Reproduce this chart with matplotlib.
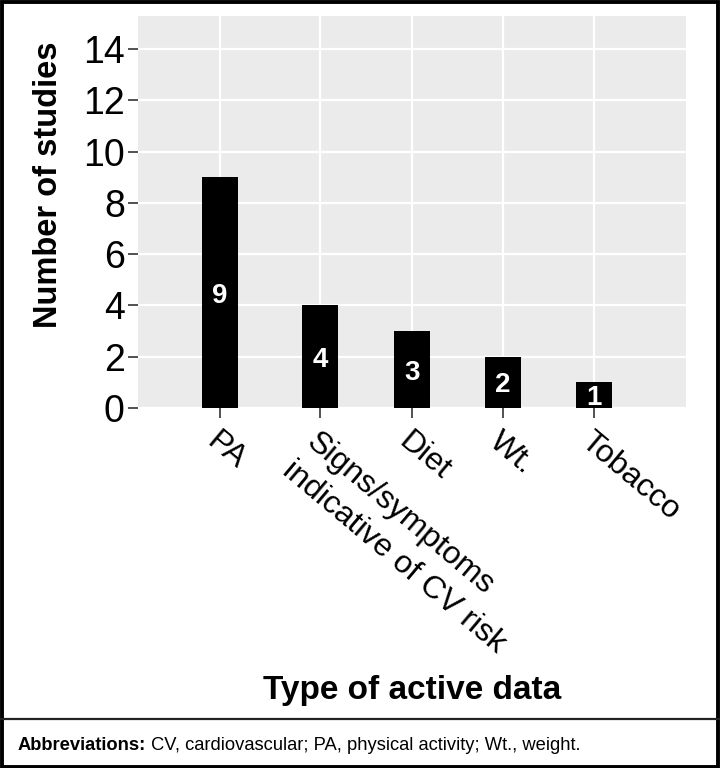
import matplotlib
matplotlib.use("Agg")
import matplotlib.pyplot as plt
from matplotlib.patches import Rectangle
from matplotlib.lines import Line2D

categories = ["PA", "Signs/symptoms\nindicative of CV risk", "Diet", "Wt.", "Tobacco"]
counts = [9, 4, 3, 2, 1]
y_ticks = [0, 2, 4, 6, 8, 10, 12, 14]
y_label = "Number of studies"
x_label = "Type of active data"
note_bold = "Abbreviations:"
note_rest = " CV, cardiovascular; PA, physical activity; Wt., weight."

plt.rcParams['font.family'] = ['Liberation Sans', 'DejaVu Sans']

W, H = 720, 768
fig = plt.figure(figsize=(W / 100, H / 100), dpi=100)
fig.patch.set_facecolor('white')

# panel in pixels
L, R, T, B = 138, 686, 16, 408
ax = fig.add_axes([L / W, 1 - B / H, (R - L) / W, (B - T) / H])
ax.set_facecolor('#EBEBEB')

xpos = [0, 1.09, 2.09, 3.085, 4.08]
ax.bar(xpos, counts, width=0.393, color='black', zorder=3)
for x, v in zip(xpos, counts):
    ax.text(x, v / 2 - 0.12, str(v), color='white', fontsize=20, fontweight='bold',
            ha='center', va='center', zorder=4)

ax.set_xlim(-0.894, 5.08)
ax.set_ylim(0, 15.29)
ax.set_yticks(y_ticks)
ax.set_yticklabels([str(t) for t in y_ticks], fontsize=27)
ax.set_xticks(xpos)
ax.set_xticklabels(categories, fontsize=23, rotation=-40, ha='left', va='top',
                   rotation_mode='anchor', linespacing=1.3)
ax.tick_params(axis='both', length=7.5, width=1.2, color='#333333', pad=2)
ax.tick_params(axis='x', pad=6)
ax.grid(True, color='white', linewidth=1.6, zorder=0)
ax.set_axisbelow(True)
for s in ax.spines.values():
    s.set_visible(False)

fig.text(49 / W, 1 - 185 / H, y_label, rotation=90, ha='center', va='center',
         fontsize=23.5, fontweight='bold')
fig.text(412 / W, 1 - 690 / H, x_label, ha='center', va='center',
         fontsize=24, fontweight='bold')

# footnote
t1 = fig.text(18 / W, 18 / H, note_bold, fontsize=13.2, fontweight='bold',
              ha='left', va='baseline')
ax.annotate(note_rest, xy=(1, 0), xycoords=t1, xytext=(0, 0), textcoords='offset points',
            fontsize=13.2, ha='left', va='bottom', annotation_clip=False)

# separator and border
fig.add_artist(Line2D([0, 1], [1 - 719 / H, 1 - 719 / H], color='#222222', linewidth=1.6,
                      transform=fig.transFigure))
fig.add_artist(Rectangle((1.5 / W, 1.5 / H), 1 - 3.5 / W, 1 - 3.5 / H, fill=False,
                         edgecolor='black', linewidth=2.8, transform=fig.transFigure))

fig.savefig("out.png", dpi=100)
